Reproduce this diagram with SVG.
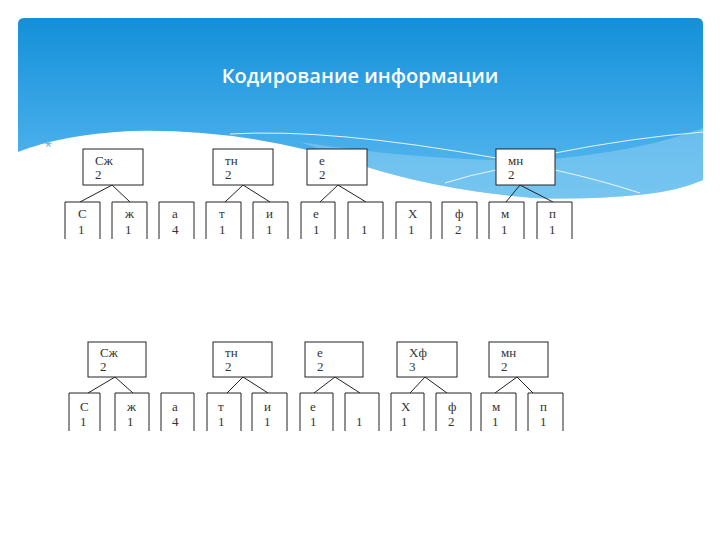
<svg xmlns="http://www.w3.org/2000/svg" width="720" height="540" viewBox="0 0 720 540">
<defs>
<linearGradient id="bg" x1="0" y1="0" x2="0" y2="1">
<stop offset="0" stop-color="#1390d8"/>
<stop offset="0.6" stop-color="#3fa9e8"/>
<stop offset="1" stop-color="#5cbcef"/>
</linearGradient>
</defs>
<style>
.box{fill:#fff;stroke:#222;stroke-width:1}
.open{fill:#fff;stroke:#222;stroke-width:1}
.t{font-family:"Liberation Serif",serif;font-size:13px;fill:#333}
.c{stroke:#222;stroke-width:1;fill:none}
.w{stroke:#fff;stroke-width:1;fill:none;opacity:0.85}
</style>
<rect width="720" height="540" fill="#fff"/>
<g id="header">
<path d="M18,24 Q18,18 24,18 L697,18 Q703,18 703,24 L703,180 Q680,190 647,194 Q590,200 533,198 Q440,190 367,167 Q250,128 130,131 Q60,135 18,152 Z" fill="url(#bg)"/>
<path d="M300,142 Q430,162 540,160 Q640,152 703,128 L703,180 Q680,190 647,194 Q590,200 533,198 Q440,190 367,167 Q335,154 300,142 Z" fill="#8ccdf2" opacity="0.55"/>
<path class="w" d="M230,134 Q330,128 496,158"/>
<path class="w" d="M555,153 Q630,138 703,132"/>
<path class="w" d="M555,170 Q600,180 640,193"/>
<path class="w" d="M445,183 Q470,175 496,170"/>
<text x="360" y="83" text-anchor="middle" font-family="Open Sans, sans-serif" font-size="20" font-weight="600" fill="#fff">Кодирование информации</text>
<text x="45" y="153" font-family="Liberation Sans, sans-serif" font-size="17" fill="#5bb8e8">*</text>
</g>
<g id="connectors">
<path class="c" d="M112,185 L80,202 M112,185 L130,202"/>
<path class="c" d="M243,185 L225,202 M243,185 L270,202"/>
<path class="c" d="M338,185 L320,202 M338,185 L366,202"/>
<path class="c" d="M520,185 L506,202 M520,185 L553,202"/>
<path class="c" d="M115,377 L88,393 M115,377 L133,393"/>
<path class="c" d="M243,377 L227,393 M243,377 L268,393"/>
<path class="c" d="M335,377 L314,393 M335,377 L360,393"/>
<path class="c" d="M425,377 L410,393 M425,377 L447,393"/>
<path class="c" d="M517,377 L495,393 M517,377 L533,393"/>
</g>
<!-- top row parents -->
<g id="t-szh"><rect class="box" x="83" y="149" width="60" height="36"/><text class="t" x="95" y="165">Сж</text><text class="t" x="95" y="179">2</text></g>
<g id="t-tn"><rect class="box" x="213" y="149" width="60" height="36"/><text class="t" x="225" y="165">тн</text><text class="t" x="225" y="179">2</text></g>
<g id="t-e"><rect class="box" x="307" y="149" width="60" height="36"/><text class="t" x="319" y="165">е</text><text class="t" x="319" y="179">2</text></g>
<g id="t-mn"><rect class="box" x="496" y="149" width="59" height="36"/><text class="t" x="508" y="165">мн</text><text class="t" x="508" y="179">2</text></g>
<!-- top row children -->
<g id="t-c1"><path class="open" d="M65,239 V202 H100 V239"/><text class="t" x="78" y="218">С</text><text class="t" x="78" y="234">1</text></g>
<g id="t-c2"><path class="open" d="M112,239 V202 H147 V239"/><text class="t" x="125" y="218">ж</text><text class="t" x="125" y="234">1</text></g>
<g id="t-c3"><path class="open" d="M159,239 V202 H194 V239"/><text class="t" x="172" y="218">а</text><text class="t" x="172" y="234">4</text></g>
<g id="t-c4"><path class="open" d="M206,239 V202 H241 V239"/><text class="t" x="219" y="218">т</text><text class="t" x="219" y="234">1</text></g>
<g id="t-c5"><path class="open" d="M253,239 V202 H288 V239"/><text class="t" x="266" y="218">и</text><text class="t" x="266" y="234">1</text></g>
<g id="t-c6"><path class="open" d="M301,239 V202 H335 V239"/><text class="t" x="313" y="218">е</text><text class="t" x="313" y="234">1</text></g>
<g id="t-c7"><path class="open" d="M348,239 V202 H383 V239"/><text class="t" x="361" y="234">1</text></g>
<g id="t-c8"><path class="open" d="M396,239 V202 H431 V239"/><text class="t" x="408" y="218">Х</text><text class="t" x="408" y="234">1</text></g>
<g id="t-c9"><path class="open" d="M442,239 V202 H477 V239"/><text class="t" x="455" y="218">ф</text><text class="t" x="455" y="234">2</text></g>
<g id="t-c10"><path class="open" d="M489,239 V202 H524 V239"/><text class="t" x="501" y="218">м</text><text class="t" x="501" y="234">1</text></g>
<g id="t-c11"><path class="open" d="M537,239 V202 H572 V239"/><text class="t" x="549" y="218">п</text><text class="t" x="549" y="234">1</text></g>
<!-- bottom row parents -->
<g id="b-szh"><rect class="box" x="88" y="342" width="58" height="35"/><text class="t" x="100" y="357">Сж</text><text class="t" x="100" y="371">2</text></g>
<g id="b-tn"><rect class="box" x="213" y="342" width="59" height="35"/><text class="t" x="225" y="357">тн</text><text class="t" x="225" y="371">2</text></g>
<g id="b-e"><rect class="box" x="305" y="342" width="58" height="35"/><text class="t" x="317" y="357">е</text><text class="t" x="317" y="371">2</text></g>
<g id="b-hf"><rect class="box" x="397" y="342" width="60" height="35"/><text class="t" x="409" y="357">Хф</text><text class="t" x="409" y="371">3</text></g>
<g id="b-mn"><rect class="box" x="489" y="342" width="59" height="35"/><text class="t" x="501" y="357">мн</text><text class="t" x="501" y="371">2</text></g>
<!-- bottom row children -->
<g id="b-c1"><path class="open" d="M69,431 V393 H100 V431"/><text class="t" x="80" y="411">С</text><text class="t" x="80" y="426">1</text></g>
<g id="b-c2"><path class="open" d="M115,431 V393 H149 V431"/><text class="t" x="127" y="411">ж</text><text class="t" x="127" y="426">1</text></g>
<g id="b-c3"><path class="open" d="M161,431 V393 H194 V431"/><text class="t" x="172" y="411">а</text><text class="t" x="172" y="426">4</text></g>
<g id="b-c4"><path class="open" d="M207,431 V393 H241 V431"/><text class="t" x="218" y="411">т</text><text class="t" x="218" y="426">1</text></g>
<g id="b-c5"><path class="open" d="M252,431 V393 H287 V431"/><text class="t" x="264" y="411">и</text><text class="t" x="264" y="426">1</text></g>
<g id="b-c6"><path class="open" d="M300,431 V393 H333 V431"/><text class="t" x="310" y="411">е</text><text class="t" x="310" y="426">1</text></g>
<g id="b-c7"><path class="open" d="M345,431 V393 H379 V431"/><text class="t" x="356" y="426">1</text></g>
<g id="b-c8"><path class="open" d="M391,431 V393 H424 V431"/><text class="t" x="401" y="411">Х</text><text class="t" x="401" y="426">1</text></g>
<g id="b-c9"><path class="open" d="M436,431 V393 H471 V431"/><text class="t" x="448" y="411">ф</text><text class="t" x="448" y="426">2</text></g>
<g id="b-c10"><path class="open" d="M481,431 V393 H516 V431"/><text class="t" x="492" y="411">м</text><text class="t" x="492" y="426">1</text></g>
<g id="b-c11"><path class="open" d="M528,431 V393 H563 V431"/><text class="t" x="540" y="411">п</text><text class="t" x="540" y="426">1</text></g>
</svg>
